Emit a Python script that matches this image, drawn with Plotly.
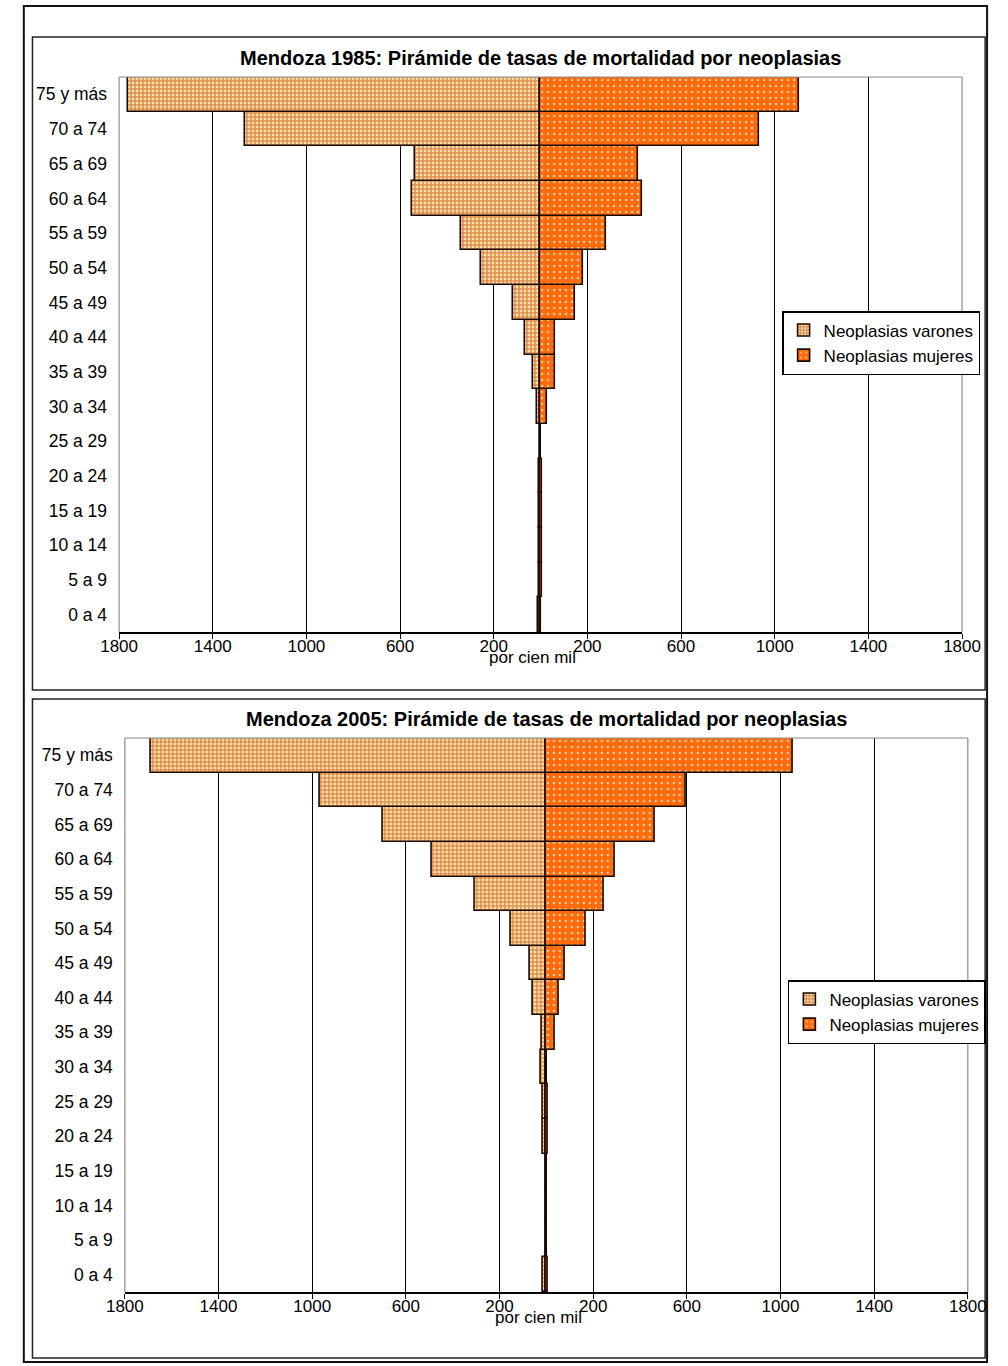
import plotly.graph_objects as go

# ---------------- data ----------------
categories = ["0 a 4", "5 a 9", "10 a 14", "15 a 19", "20 a 24", "25 a 29",
              "30 a 34", "35 a 39", "40 a 44", "45 a 49", "50 a 54", "55 a 59",
              "60 a 64", "65 a 69", "70 a 74", "75 y más"]

varones_1985 = [10, 6, 6, 6, 6, 0, 14, 32, 66, 119, 254, 341, 548, 538, 1260, 1760]
mujeres_1985 = [2, 6, 6, 6, 6, 0, 26, 62, 61, 148, 181, 280, 432, 416, 932, 1104]

varones_2005 = [16, 4, 4, 4, 14, 14, 22, 18, 58, 72, 150, 304, 487, 700, 966, 1690]
mujeres_2005 = [8, 3, 3, 3, 8, 8, 1, 35, 53, 81, 167, 246, 292, 463, 594, 1053]

tick_values = [-1800, -1400, -1000, -600, -200, 200, 600, 1000, 1400, 1800]
tick_labels = ["1800", "1400", "1000", "600", "200", "200", "600", "1000", "1400", "1800"]

titles = ["Mendoza 1985: Pirámide de tasas de mortalidad por neoplasias",
          "Mendoza 2005: Pirámide de tasas de mortalidad por neoplasias"]
series_names = ["Neoplasias varones", "Neoplasias mujeres"]
axis_title = "por cien mil"

# ---------------- layout helpers ----------------
W, H = 1008, 1366
FONT = "Liberation Sans, Arial, sans-serif"


def px_x(x):
    return x / W


def px_y(y):
    return 1 - y / H


# plot areas in pixels (left, right, top, bottom)
areas = [(104, 980, 77, 632), (110, 986, 738, 1292)]
frames = [(14, 1004, 37, 690), (14, 1004, 699, 1358)]
legend_pos = [(793, 311), (799, 980)]

male_pattern = dict(shape=".", bgcolor="#DE8E4E", fgcolor="#FDE2AE",
                    size=4, solidity=0.38, fillmode="replace")
female_pattern = dict(shape=".", bgcolor="#FF6A0C", fgcolor="#FFD3A0",
                      size=6, solidity=0.12, fillmode="replace")

fig = go.Figure()

data_sets = [(varones_1985, mujeres_1985), (varones_2005, mujeres_2005)]

for i, (men, women) in enumerate(data_sets):
    xa = "x" if i == 0 else "x2"
    ya = "y" if i == 0 else "y2"
    leg = "legend" if i == 0 else "legend2"
    fig.add_trace(go.Bar(
        y=categories, x=[-v for v in men], orientation="h",
        name=series_names[0], xaxis=xa, yaxis=ya, legend=leg,
        legendgroup=f"m{i}",
        marker=dict(color="#EDB27A", pattern=male_pattern,
                    line=dict(color="#1a0a00", width=1.6)),
        customdata=men, hovertemplate="%{y}: %{customdata}<extra></extra>",
    ))
    fig.add_trace(go.Bar(
        y=categories, x=women, orientation="h",
        name=series_names[1], xaxis=xa, yaxis=ya, legend=leg,
        legendgroup=f"f{i}",
        marker=dict(color="#FF6A0C", pattern=female_pattern,
                    line=dict(color="#1a0a00", width=1.6)),
        hovertemplate="%{y}: %{x}<extra></extra>",
    ))

layout = dict(
    width=W, height=H,
    margin=dict(l=0, r=0, t=0, b=0),
    paper_bgcolor="white", plot_bgcolor="white",
    barmode="overlay", bargap=0,
    font=dict(family=FONT, color="black", size=15),
    showlegend=True,
)

shapes = []
annotations = []

for i, (l, r, t, b) in enumerate(areas):
    sfx = "" if i == 0 else "2"
    xaxis = dict(
        domain=[px_x(l), px_x(r)], range=[-1800, 1800],
        tickmode="array", tickvals=tick_values, ticktext=tick_labels,
        showgrid=True, gridcolor="#000000", gridwidth=1,
        zeroline=True, zerolinecolor="#000000", zerolinewidth=1,
        showline=True, linecolor="#000000", linewidth=1.5,
        ticks="outside", ticklen=5, tickcolor="#000000", tickwidth=1,
        tickfont=dict(size=17, family=FONT), ticklabelstandoff=-7,
        anchor="y" + sfx, fixedrange=True,
    )
    yaxis = dict(
        domain=[px_y(b), px_y(t)], type="category",
        categoryorder="array", categoryarray=categories,
        range=[-0.5, len(categories) - 0.5],
        showgrid=False, zeroline=False, showline=False, ticks="",
        tickfont=dict(size=17.5, family=FONT), ticklabelstandoff=11,
        anchor="x" + sfx, fixedrange=True,
    )
    layout["xaxis" + sfx] = xaxis
    layout["yaxis" + sfx] = yaxis

    # grey plot-area border (left, top, right)
    for (x0, y0, x1, y1) in [(l, t, l, b), (l, t, r, t), (r, t, r, b)]:
        shapes.append(dict(type="line", xref="paper", yref="paper",
                           x0=px_x(x0), x1=px_x(x1), y0=px_y(y0), y1=px_y(y1),
                           line=dict(color="#8c8c8c", width=1.2), layer="above"))

    # panel frame
    fl, fr, ft, fb = frames[i]
    shapes.append(dict(type="rect", xref="paper", yref="paper",
                       x0=px_x(fl), x1=px_x(fr), y0=px_y(fb), y1=px_y(ft),
                       line=dict(color="#222222", width=1.5), layer="below"))

    cx = (l + r) / 2
    annotations.append(dict(text="<b>" + titles[i] + "</b>", xref="paper", yref="paper",
                            x=px_x(cx), y=px_y(t - 19), xanchor="center", yanchor="middle",
                            showarrow=False, font=dict(size=20, family=FONT)))
    annotations.append(dict(text=axis_title, xref="paper", yref="paper",
                            x=px_x(cx - 8), y=px_y(b + 25), xanchor="center", yanchor="middle",
                            showarrow=False, font=dict(size=17, family=FONT)))

    lx, ly = legend_pos[i]
    layout["legend" if i == 0 else "legend2"] = dict(
        x=px_x(lx), y=px_y(ly), xanchor="left", yanchor="top",
        xref="paper", yref="paper",
        bgcolor="white", bordercolor="#000000", borderwidth=1.5,
        font=dict(size=17, family=FONT), tracegroupgap=8,
        itemwidth=30, traceorder="normal",
    )

# outer frame
shapes.append(dict(type="rect", xref="paper", yref="paper",
                   x0=px_x(5), x1=px_x(1006), y0=px_y(1362), y1=px_y(6),
                   line=dict(color="#111111", width=2), layer="below"))

layout["shapes"] = shapes
layout["annotations"] = annotations
fig.update_layout(**layout)

fig.write_html("out.html",
               config={"displayModeBar": False},
               post_script="document.body.style.margin='0';document.body.style.overflow='hidden';")
